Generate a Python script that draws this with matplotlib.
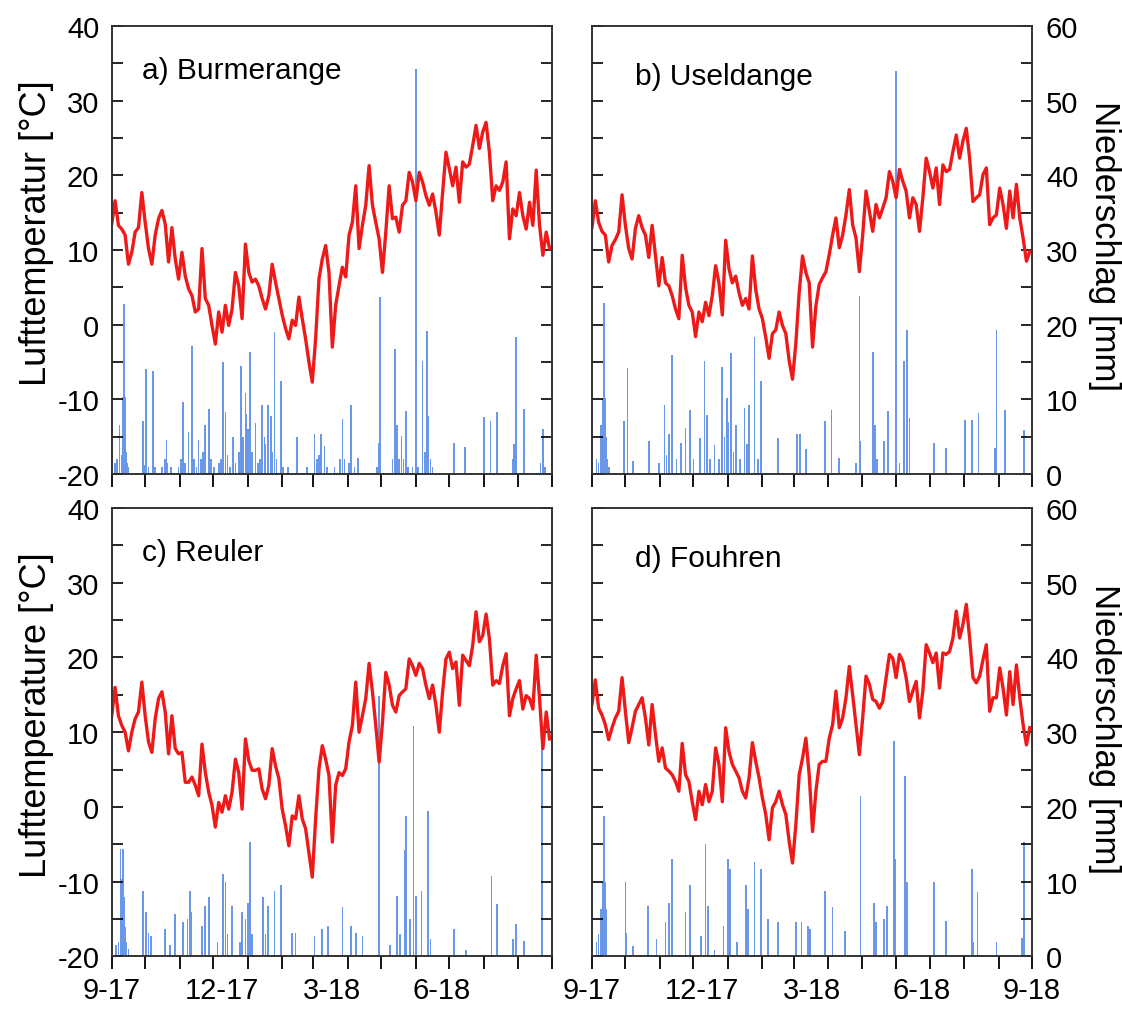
import numpy as np
import matplotlib
matplotlib.use("Agg")
import matplotlib.pyplot as plt

plt.rcParams['font.family'] = ['Liberation Sans', 'DejaVu Sans']
plt.rcParams['axes.unicode_minus'] = False

# daily means read every 3rd day, starting 1 Sep 2017
temp_a = [13.5, 16.6, 13.3, 12.8, 12, 8.1, 9.7, 12.4, 13, 17.7, 13.7, 10.2, 8.1, 12, 14.2, 15.3, 13.5, 8.4, 13, 8.8,
          6.1, 9.7, 6.5, 4.8, 3.9, 1.7, 2.1, 10.2, 3.5, 2.6, -0.1, -2.6, 1.7, -1, 2.6, -0.1, 2.1, 7, 5.2, 0.8,
          10.8, 7, 5.7, 6.1, 5.2, 3.5, 2.1, 3.9, 8.1, 5.7, 3.5, 1.3, -0.5, -1.9, 0.6, -0.1, 3.7, 0.8, -1.9, -5,
          -7.7, -1.9, 6.1, 8.8, 10.6, 7, -3, 2.6, 5.2, 7.7, 6.4, 12, 13.7, 18.6, 10.2, 13.3, 16, 21.3, 16, 13.7,
          11.5, 7, 12.4, 18.6, 14.2, 14.4, 12.4, 16, 16.6, 20.4, 19.1, 16.6, 20.4, 19.1, 17.3, 16, 17.5, 15.1, 12, 17.7,
          23.1, 20.9, 18.6, 21.1, 16.4, 21.8, 21.1, 21.5, 24, 26.7, 23.6, 25.8, 27.1, 23.1, 16.6, 18.6, 18, 19.1, 21.8, 11.5,
          15.5, 14.6, 17.7, 14.6, 12.8, 16.4, 13.3, 20.7, 13.3, 9.3, 12.4, 10.2]
temp_b = [13, 16.6, 13.7, 12.5, 12, 8.4, 10.6, 11.4, 12.4, 17.4, 13.3, 10.2, 8.8, 12.9, 14.6, 13, 12, 9, 13.3, 9.3,
          5.2, 9, 5.6, 5.2, 3.9, 2.1, 0.8, 9.3, 5, 2.6, 1.7, -1.6, 1.7, 0.4, 3, 1.2, 3.9, 7.9, 5.6, 1.3,
          11.3, 7.5, 5.6, 6.5, 4.3, 2.6, 3.5, 2.1, 9.2, 4.7, 2.1, 0.8, -1.7, -4.5, -1.2, -0.7, 1.7, -0.1, -1.2, -4.8,
          -7.3, -2.5, 4.3, 9.2, 7, 5.6, -3, 2.5, 5.4, 6.3, 7.1, 9.4, 12, 14.3, 10.3, 12, 14.7, 18.1, 13.4, 11.6,
          7.1, 12, 17.9, 15.2, 12.5, 16.1, 14.3, 15.6, 17, 20.5, 19.2, 17, 20.8, 19.2, 17.9, 14.3, 17, 16.1, 12.5, 17,
          22.3, 20.5, 18.3, 21, 16.1, 21.4, 20.5, 20.8, 23.2, 25.4, 22.3, 24.6, 26.3, 22.3, 16.5, 17, 17.4, 20.1, 21, 13.4,
          14.3, 14.7, 18.3, 16.1, 12.9, 17.9, 14.3, 18.8, 14.3, 11.6, 8.5, 9.8]
temp_c = [12.2, 16, 12.2, 10.9, 10, 7.5, 10, 11.8, 12.7, 16.7, 12.2, 8.7, 7.3, 11.8, 14.5, 15.4, 12.7, 7.1, 12.2, 7.8,
          7.1, 7.3, 3.3, 3.3, 4, 2.9, 1.5, 8.4, 4.6, 2, 0.2, -2.7, 0.6, -0.7, 1.5, -0.3, 2, 6.4, 4.6, -0.3,
          9.1, 6.2, 4.9, 4.9, 5.1, 2.4, 1.1, 2.9, 7.8, 5.5, 3.8, -0.3, -2.5, -5.2, -1.2, -1.6, 1.5, -1.6, -2.9, -6.1,
          -9.4, -1.6, 5.1, 8.2, 6.4, 4.2, -4.7, 2.9, 4.6, 4.2, 5.1, 8.7, 10.9, 16.7, 10, 12.2, 14.5, 19.2, 15.4, 10.9,
          6, 11.3, 18, 16.3, 13.6, 12.7, 14.9, 15.4, 15.8, 19.8, 18.9, 17.6, 19.2, 18.5, 16.3, 14.5, 16.3, 13.6, 10, 15.4,
          19.8, 20.7, 18.5, 19.4, 13.6, 20.3, 19.6, 18.9, 21.6, 26.1, 22.1, 22.9, 25.8, 22.5, 16.3, 16.9, 16.5, 18.9, 20.5, 12.2,
          14.5, 15.8, 16.9, 13.1, 14.9, 14.5, 13.1, 20.3, 14.5, 7.8, 12.7, 9.1]
temp_d = [13.7, 17, 13.2, 12.3, 11, 9, 10.6, 11.9, 12.8, 17.3, 12.8, 8.6, 10.6, 12.8, 13.7, 14.6, 11.9, 8.3, 13.7, 9.7,
          6.1, 7.9, 5.2, 4.8, 4.3, 3.4, 2.1, 8.5, 4.3, 3.4, 0.7, -1.7, 2.1, 0.3, 3, 0.7, 2.1, 7.9, 5.7, 0.7,
          10.6, 7.4, 5.7, 4.8, 3.9, 2.1, 1.2, 3.9, 8.6, 6.1, 3.9, 1.2, -1, -4.4, -0.1, 0.7, 2.1, 0.3, -1, -4.6,
          -7.5, -2.4, 4.3, 6.5, 9.2, 4.3, -3.3, 2.1, 5.7, 6.1, 6.1, 9.2, 11, 15.5, 10.6, 11.9, 14.6, 18.8, 15, 11,
          7, 11.9, 17.5, 16.4, 14.4, 14.1, 13.2, 14.1, 17.3, 20.4, 19.9, 17.3, 20.4, 19.5, 17.3, 14.1, 15.5, 16.8, 11.9, 15.5,
          21.7, 20.6, 19.3, 20.6, 15.9, 20.6, 20.4, 20.8, 22.6, 26.2, 22.6, 24.4, 27.1, 22.6, 17.3, 16.6, 17.5, 19.7, 21.7, 12.8,
          14.6, 14.6, 18.6, 15.9, 12.3, 18.1, 13.7, 19, 14.6, 11, 8.3, 10.6]

# precipitation: day after 1 Sep 2017 and amount in mm
rain_a_day = [3, 5, 7, 9, 10, 11, 12, 13, 14, 15, 28, 30, 31, 33, 37, 39, 45, 48, 49, 50, 53,
              60, 62, 64, 66, 69, 72, 74, 76, 78, 80, 82, 84, 87, 89, 92,
              96, 98, 100, 102, 104, 106, 109, 111, 114, 116, 118, 120, 121, 122, 124, 126, 129, 131, 133, 135, 137, 138,
              140, 143, 144, 146, 148, 152, 154, 158,
              166, 175, 182, 184, 186, 188, 191, 193, 200, 205, 207, 209, 213, 215, 218, 221,
              238, 240, 241, 252, 254, 256, 258, 260, 262, 264, 266, 270, 273, 275, 279, 281, 283, 284, 286, 288,
              307, 317, 334, 340, 346, 360, 361, 363, 370, 385, 387, 389]
rain_a_mm = [1.5, 2, 6.5, 2.5, 10.3, 22.8, 10.3, 3, 1.5, 1, 7.1, 1.2, 14.1, 1, 13.8, 1, 1, 2, 4.5, 1.5, 1,
             1, 2, 9.6, 1.5, 5.6, 17.2, 2, 1, 4.5, 2, 3, 6.5, 8.7, 2, 1,
             1.5, 2, 15, 8.3, 2.5, 1, 4.9, 1.5, 3, 14.5, 5, 10.9, 8, 6, 16.3, 3, 6.9, 1.5, 2, 9.2, 5, 4,
             9.2, 7.8, 3, 19, 2, 12.5, 1, 1,
             4.9, 1, 5.4, 2, 2.5, 5.4, 3.8, 1, 1, 2, 7.4, 2, 1.5, 9.2, 1, 2.2,
             1, 4.2, 23.7, 2, 16.7, 6.5, 2, 5.1, 2, 8.5, 1, 1, 54.3, 1, 15.2, 3, 19.2, 7.8, 2, 1,
             4.2, 3.6, 7.6, 7.1, 8.3, 2, 4, 18.3, 8.7, 1.5, 6, 1]
rain_b_day = [4, 6, 8, 10, 11, 12, 13, 14, 15, 29, 32, 37, 51, 60, 65, 67, 69, 72, 76, 80, 84, 88, 91,
              97, 101, 103, 106, 110, 114, 117, 119, 121, 122, 125, 127, 129, 133, 137, 139, 141, 146, 149, 152,
              167, 184, 187, 192, 209, 215, 222,
              237, 240, 241, 252, 254, 256, 262, 266, 273, 276, 280, 283, 285,
              307, 318, 335, 341, 347, 362, 363, 371, 388]
rain_b_mm = [2, 1.5, 6.6, 10.2, 22.9, 10.2, 5, 2, 1, 7.1, 14.2, 1.7, 4.4, 1.5, 9.3, 2.5, 5.3, 16, 2, 4.2, 6.2, 8.6, 2,
             4.8, 15.1, 7.9, 2, 3.9, 2, 14.4, 5, 10.2, 7, 16.2, 3, 6.6, 2, 8.8, 4, 9.3, 18.4, 2, 12.4,
             4.8, 5.3, 5.3, 3.3, 7.1, 8.6, 2.1,
             1.5, 23.8, 4.4, 16.4, 6.6, 2, 4.4, 8.4, 54, 1.5, 15.1, 19.3, 7.5,
             4.2, 3.5, 7.3, 7.3, 8.2, 3.5, 19.3, 8.6, 5.9]
rain_c_day = [4, 6, 8, 9, 10, 11, 12, 13, 15, 28, 31, 33, 35, 48, 52, 57, 64, 68, 70, 71, 81, 84, 87, 95,
              100, 102, 104, 108, 115, 117, 120, 122, 124, 126, 136, 138, 140, 146, 152, 162, 165,
              182, 189, 194, 207, 215, 219, 225,
              240, 250, 256, 259, 263, 264, 268, 271, 273, 278, 284, 286,
              307, 318, 341, 346, 360, 363, 370, 386]
rain_c_mm = [1.5, 2, 14.4, 10.4, 14.4, 8, 4, 2, 1, 8.8, 5.9, 3.2, 2.8, 3.7, 1.5, 5.7, 4.6, 5, 8.8, 6, 4.1, 6.8, 7.9, 2,
             11, 9.9, 3, 6.8, 2, 5.9, 5, 7.2, 15.3, 3, 7.9, 3, 6.8, 8.8, 9.5, 3.2, 3.2,
             2.8, 3.7, 4.1, 6.6, 4.1, 3.2, 2.8,
             34.8, 1.5, 8.1, 3, 14.2, 18.8, 5, 30.8, 8.1, 8.8, 19.5, 2.3,
             3.7, 0.8, 10.8, 7, 2.3, 4.3, 2.1, 29]
rain_d_day = [4, 6, 8, 10, 11, 12, 13, 30, 31, 37, 50, 58, 66, 69, 72, 84, 88, 98,
              102, 104, 110, 118, 122, 124, 130, 138, 140, 146, 152, 158, 167,
              183, 188, 194, 196, 209, 216, 227,
              241, 253, 255, 262, 265, 271, 272, 281, 283,
              307, 318, 341, 342, 346, 363, 386, 388]
rain_d_mm = [2, 3, 6.3, 9.9, 18.8, 9.9, 6.3, 9.9, 3.2, 1.4, 6.8, 2.3, 4.6, 7.2, 13, 5.9, 9.5, 2.8,
             15, 6.8, 0.8, 4.1, 13, 11.7, 2, 9.5, 6.3, 12.6, 11.7, 5, 4.6,
             4.6, 4.6, 4.1, 3.7, 8.8, 6.6, 3.4,
             21.5, 7.2, 4.6, 5, 6.8, 28.8, 13, 24.2, 9.9,
             9.9, 4.8, 11.7, 1.9, 8.6, 1.9, 2.5, 15.3]

titles = ['a) Burmerange', 'b) Useldange', 'c) Reuler', 'd) Fouhren']
date_labels = ['9-17', '12-17', '3-18', '6-18', '9-18']

start = np.datetime64('2017-09-01')
months = np.arange(np.datetime64('2017-09'), np.datetime64('2018-11'))
month_days = (months.astype('datetime64[D]') - start).astype(int)
end = month_days[-1]
label_pos = np.linspace(0, end, len(date_labels))

temps = [temp_a, temp_b, temp_c, temp_d]
rains = [(rain_a_day, rain_a_mm), (rain_b_day, rain_b_mm), (rain_c_day, rain_c_mm), (rain_d_day, rain_d_mm)]

boxes = [[0.0996, 0.5306, 0.3922, 0.4427], [0.5276, 0.5306, 0.3922, 0.4427],
         [0.0996, 0.0539, 0.3922, 0.4432], [0.5276, 0.0539, 0.3922, 0.4432]]
title_xy = [(0.069, 0.885), (0.098, 0.87), (0.069, 0.885), (0.098, 0.87)]
ylab_left = ['Lufttemperatur [°C]', None, 'Lufttemperature [°C]', None]

fig = plt.figure(figsize=(11.22, 10.12), dpi=100)
for k in range(4):
    ax = fig.add_axes(boxes[k])
    ax2 = ax.twinx()
    left_col = k % 2 == 0
    bottom_row = k >= 2

    rd, rm = rains[k]
    ax2.bar(rd, rm, width=1.5, color='#6a98e6', linewidth=0)

    t = temps[k]
    tday = np.arange(len(t)) * 3
    ax.plot(tday, t, color='#ee1a1a', lw=2.4)

    ax.set_zorder(ax2.get_zorder() + 1)
    ax.patch.set_visible(False)

    ax.set_xlim(0, end)
    ax.set_ylim(-20, 40)
    ax2.set_ylim(0, 60)

    ax.set_yticks(np.arange(-20, 41, 10))
    ax.set_yticks(np.arange(-15, 40, 10), minor=True)
    ax2.set_yticks(np.arange(0, 61, 10))
    ax2.set_yticks(np.arange(5, 60, 10), minor=True)
    ax.tick_params(axis='y', which='both', direction='in', length=8, width=1.2,
                   labelsize=21, pad=9, labelleft=left_col)
    ax2.tick_params(axis='y', which='both', direction='in', length=8, width=1.2,
                    labelsize=21, pad=10, labelright=not left_col)

    ax.xaxis.remove_overlapping_locs = False
    ax.set_xticks(label_pos)
    if bottom_row:
        labs = list(date_labels)
        if left_col:
            labs[-1] = ''
        ax.set_xticklabels(labs)
    ax.set_xticks(month_days, minor=True)
    ax.tick_params(axis='x', which='major', length=0, pad=14, labelsize=21, labelbottom=bottom_row)
    ax.tick_params(axis='x', which='minor', direction='out', length=9, width=1.3)

    for a in (ax, ax2):
        for s in a.spines.values():
            s.set_linewidth(1.2)
            s.set_color('#333333')

    ax.text(title_xy[k][0], title_xy[k][1], titles[k], transform=ax.transAxes,
            fontsize=21.5, va='baseline', ha='left')

    if left_col:
        ax.text(-0.172, 0.54, ylab_left[k], transform=ax.transAxes, rotation=90,
                ha='center', va='center', fontsize=26)
    else:
        ax.text(1.165, 0.51, 'Niederschlag [mm]', transform=ax.transAxes, rotation=270,
                ha='center', va='center', fontsize=25)

fig.savefig('out.png', dpi=100)
